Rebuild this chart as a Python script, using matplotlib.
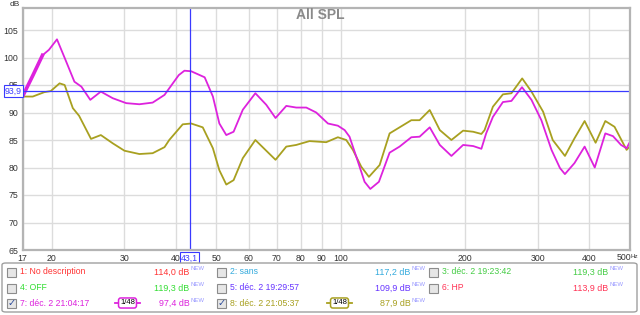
"""courbes SPL 7 et 8 avec curseur et légende"""

import matplotlib.pyplot as plt
from matplotlib.patches import Rectangle, FancyBboxPatch
from matplotlib.lines import Line2D

plt.rcParams['font.family'] = ['Liberation Sans', 'DejaVu Sans']

# courbe 7 (magenta)
freq_7 = [17.0, 18.0, 19.0, 19.7, 20.6, 21.7, 22.7, 23.6, 24.8, 26.3, 28.1, 30.3,
          32.6, 35.1, 37.5, 38.5, 40.6, 41.9, 43.5, 46.9, 49.1, 50.9, 52.9, 55.1,
          58.0, 62.2, 66.1, 69.6, 73.9, 78.1, 82.6, 87.3, 93.2, 98.5, 102.3, 105.1,
          109.1, 114.3, 118.0, 123.8, 131.4, 138.9, 148.3, 155.3, 164.3, 173.8,
          185.4, 197.9, 209.3, 219.1, 225, 233.6, 247, 259, 274.7, 289.6, 306,
          323.8, 339.4, 348.9, 368, 389.4, 412, 437, 456, 477, 492, 499]
spl_7 = [92.9, 96.7, 100.4, 101.4, 103.3, 99.2, 95.6, 94.7, 92.3, 93.8, 92.6, 91.7,
         91.5, 91.8, 93.2, 94.4, 96.8, 97.6, 97.5, 96.4, 92.9, 88.0, 85.9, 86.5,
         90.5, 93.5, 91.4, 89.0, 91.2, 90.9, 90.9, 90.0, 88.0, 87.6, 86.8, 85.6,
         82.0, 77.4, 76.1, 77.4, 82.7, 83.8, 85.5, 85.6, 87.3, 84.1,
         82.1, 84.1, 83.9, 83.4, 86.2, 89.2, 91.9, 92.1, 94.6, 92.3, 88.6,
         83.2, 79.9, 78.8, 80.8, 83.8, 80.0, 86.2, 85.7, 84.1, 83.5, 84.4]

# courbe 8 (olive)
freq_8 = [17.0, 18.0, 19.2, 19.9, 20.9, 21.5, 22.5, 23.3, 24.9, 26.3, 28.1, 30.0,
          32.6, 35.1, 37.5, 38.5, 41.5, 43.5, 46.4, 49.1, 50.9, 52.9, 55.1, 58.0,
          62.2, 66.1, 69.6, 73.9, 78.1, 84.1, 92.3, 98.5, 103.2, 107.1, 112.2,
          117.1, 124.3, 131.4, 138.9, 148.3, 155.3, 164.3, 173.8, 185.4, 197.9,
          209.3, 219.1, 223, 233.6, 247, 259, 275, 289.6, 309, 326, 349, 368,
          389.4, 414, 437, 460, 492, 499]
spl_8 = [92.9, 92.9, 93.7, 93.9, 95.3, 95.0, 90.8, 89.4, 85.2, 85.9, 84.4, 83.05,
         82.45, 82.6, 83.7, 85.0, 87.85, 88.0, 87.3, 83.5, 79.5, 76.9, 77.7, 81.7,
         85.0, 83.05, 81.4, 83.8, 84.1, 84.8, 84.6, 85.5, 85.0, 83.2, 80.15,
         78.3, 80.45, 86.2, 87.3, 88.6, 88.6, 90.45, 86.8, 85.0, 86.7,
         86.5, 86.1, 86.8, 91.05, 93.3, 93.5, 96.2, 93.8, 90.15, 85.0, 82.1, 85.3,
         88.45, 84.5, 88.45, 87.4, 83.2, 83.7]

x_ticks = [17, 20, 30, 40, 50, 60, 70, 80, 90, 100, 200, 300, 400]
x_labels = ["17", "20", "30", "40", "50", "60", "70", "80", "90", "100", "200", "300", "400"]
y_ticks = [65, 70, 75, 80, 85, 90, 95, 100, 105]

cursor_f = 43.1
cursor_db = 93.9

legend_names = ["1: No description", "2: sans", "3: déc. 2 19:23:42",
                "4: OFF", "5: déc. 2 19:29:57", "6: HP",
                "7: déc. 2 21:04:17", "8: déc. 2 21:05:37"]
legend_values = ["114,0 dB", "117,2 dB", "119,3 dB",
                 "119,3 dB", "109,9 dB", "113,9 dB",
                 "97,4 dB", "87,9 dB"]
legend_colors = ["#ff3333", "#33aadd", "#44cc44",
                 "#33dd33", "#6633ff", "#ff3355",
                 "#dd22dd", "#a8a020"]
legend_checked = [False, False, False, False, False, False, True, True]

W, H = 640, 315
fig = plt.figure(figsize=(6.4, 3.15), dpi=100)
ax = fig.add_axes([22.5 / W, 1 - 250 / H, (629.5 - 22.5) / W, (250 - 8) / H])

ax.plot(freq_8, spl_8, color="#a8a020", lw=1.3)
ax.plot(freq_7, spl_7, color="#dd22dd", lw=1.3)
ax.plot(freq_7[:3], spl_7[:3], color="#dd22dd", lw=2.6)

ax.set_xscale("log")
ax.set_xlim(17, 500)
ax.set_ylim(65, 109)
ax.set_xticks(x_ticks)
ax.set_xticklabels(x_labels)
ax.xaxis.set_minor_locator(plt.NullLocator())
ax.set_yticks(y_ticks)
ax.tick_params(length=0, labelsize=6.3, colors="#333333", pad=3)
ax.grid(True, color="#dcdcdc", lw=1)
ax.set_axisbelow(True)
for side in ["left", "bottom", "top", "right"]:
    ax.spines[side].set_color("#b4b4b4")
    ax.spines[side].set_linewidth(1.6)

# curseur
blue = "#3a3aff"
ax.axvline(cursor_f, color=blue, lw=0.9)
ax.axhline(cursor_db, color=blue, lw=0.9)
ax.annotate("43,1", xy=(cursor_f, 0), xycoords=("data", "axes fraction"),
            xytext=(0, -8), textcoords="offset pixels", ha="center", va="center",
            fontsize=6.3, color=blue, zorder=5,
            bbox=dict(boxstyle="square,pad=0.15", fc="white", ec=blue, lw=0.8))
ax.annotate("93,9", xy=(0, cursor_db), xycoords=("axes fraction", "data"),
            xytext=(-9, 0), textcoords="offset pixels", ha="center", va="center",
            fontsize=6.3, color=blue, zorder=5,
            bbox=dict(boxstyle="square,pad=0.15", fc="white", ec=blue, lw=0.8))

fig.text(617 / W, 1 - 257 / H, "500", fontsize=6.3, color="#333333", ha="left", va="center")
fig.text(630.5 / W, 1 - 256 / H, "Hz", fontsize=4.5, color="#333333", ha="left", va="center")
fig.text(15 / W, 1 - 5 / H, "dB", fontsize=6, color="#333333", ha="center", va="center")
fig.text(320 / W, 1 - 15 / H, "All SPL", fontsize=10, fontweight="bold",
         color="#8a8a8a", ha="center", va="center")

# légende
fig.patches.append(FancyBboxPatch((2 / W, 1 - 312 / H), 635 / W, 49 / H,
                                  boxstyle="round,pad=0,rounding_size=0.006",
                                  transform=fig.transFigure, fc="white",
                                  ec="#a0a0a0", lw=1))
rows_y = [272, 288, 303]
box_x = [7, 217, 429]
value_x = [189.5, 410.5, 608.5]
for i, name in enumerate(legend_names):
    r, c = divmod(i, 3)
    y = 1 - rows_y[r] / H
    fig.patches.append(Rectangle((box_x[c] / W, y - 4.5 / H), 9 / W, 9 / H,
                                 transform=fig.transFigure, fc="#e6e6e6",
                                 ec="#8c8c8c", lw=0.8))
    if legend_checked[i]:
        fig.text((box_x[c] + 4.5) / W, y, "\u2713", fontsize=7, color="#2a4a9a",
                 ha="center", va="center", family="DejaVu Sans")
    fig.text((box_x[c] + 12.5) / W, y, name, fontsize=6.2, color=legend_colors[i],
             ha="left", va="center")
    fig.text(value_x[c] / W, y, legend_values[i], fontsize=6.4, color=legend_colors[i],
             ha="right", va="center")
    fig.text((value_x[c] + 1) / W, y + 3 / H, "NEW", fontsize=4.3, color="#9a9aff",
             ha="left", va="center")
    if legend_checked[i]:
        lx = 115 if c == 0 else 327
        fig.lines.append(Line2D([lx / W, (lx + 25) / W], [y, y], color=legend_colors[i],
                                lw=1.3, transform=fig.transFigure))
        fig.text((lx + 12.5) / W, y, "1/48", fontsize=5.5, color="black",
                 ha="center", va="center",
                 bbox=dict(boxstyle="round,pad=0.2,rounding_size=0.3", fc="white",
                           ec=legend_colors[i], lw=1.1))

fig.savefig("out.png", dpi=100)
